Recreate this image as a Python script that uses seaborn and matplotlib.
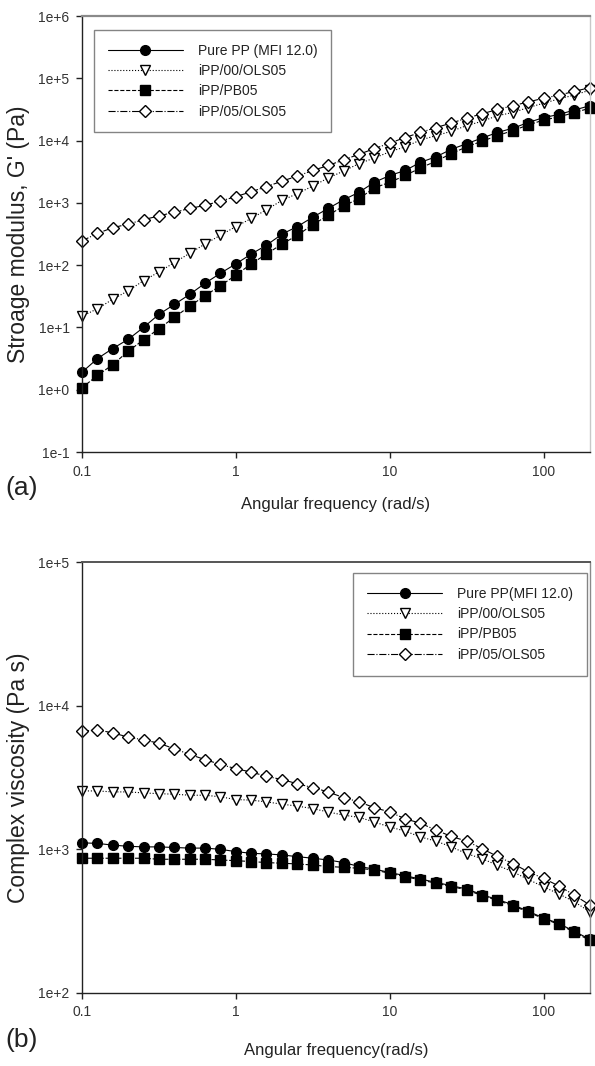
import math

import matplotlib
matplotlib.use("Agg")
import matplotlib.pyplot as plt
from matplotlib.ticker import FixedLocator, FuncFormatter, NullLocator
import pandas as pd
import seaborn as sns

# Angular frequency sweep (rad/s), 10 points per decade
freq = [0.1, 0.126, 0.158, 0.2, 0.251, 0.316, 0.398, 0.501, 0.631, 0.794,
        1.0, 1.26, 1.58, 2.0, 2.51, 3.16, 3.98, 5.01, 6.31, 7.94,
        10.0, 12.6, 15.8, 20.0, 25.1, 31.6, 39.8, 50.1, 63.1, 79.4,
        100.0, 126.0, 158.0, 200.0]

series_keys = ["pure", "ols00", "pb05", "ols05"]
labels_a = ["Pure PP (MFI 12.0)", "iPP/00/OLS05", "iPP/PB05", "iPP/05/OLS05"]
labels_b = ["Pure PP(MFI 12.0)", "iPP/00/OLS05", "iPP/PB05", "iPP/05/OLS05"]

# Storage modulus G' (Pa)
g_pure = [1.91, 3.16, 4.57, 6.46, 10.0, 16.2, 23.4, 33.9, 51.3, 74.1,
          105, 151, 209, 316, 417, 589, 813, 1120, 1480, 2140,
          2750, 3310, 4470, 5500, 7240, 8910, 11000, 13500, 15800, 19500,
          23400, 26300, 30900, 36300]
g_ols00 = [15.1, 20.0, 28.2, 38.9, 56.2, 77.6, 110, 155, 219, 302,
           417, 562, 776, 1100, 1410, 1860, 2510, 3240, 4270, 5250,
           6610, 7940, 10200, 12000, 14100, 17400, 20400, 25100, 28200, 33900,
           39800, 46800, 53700, 64600]
g_pb05 = [1.07, 1.70, 2.51, 4.17, 6.31, 9.55, 14.5, 21.9, 32.4, 46.8,
          69.2, 105, 151, 219, 302, 447, 631, 891, 1170, 1740,
          2140, 2750, 3630, 4680, 6170, 7940, 9770, 12000, 14500, 17800,
          21400, 24000, 28200, 33100]
g_ols05 = [245, 324, 398, 457, 537, 617, 708, 813, 912, 1070,
           1260, 1510, 1820, 2240, 2690, 3310, 3980, 4900, 6030, 7410,
           9120, 11200, 13500, 16200, 19100, 22900, 26900, 31600, 36300, 41700,
           47900, 53700, 61700, 70800]

# Complex viscosity (Pa s)
eta_pure = [1110, 1100, 1070, 1050, 1040, 1040, 1030, 1020, 1020, 1000,
            964, 938, 929, 914, 889, 867, 843, 809, 760, 728,
            690, 655, 621, 589, 558, 530, 483, 447, 412, 370,
            333, 304, 269, 236]
eta_ols00 = [2550, 2550, 2510, 2510, 2470, 2440, 2420, 2380, 2380, 2320,
             2220, 2200, 2140, 2060, 2000, 1920, 1820, 1730, 1670, 1550,
             1430, 1340, 1220, 1140, 1040, 933, 861, 774, 697, 617,
             548, 488, 432, 367]
eta_pb05 = [867, 867, 867, 867, 867, 853, 853, 853, 853, 843,
            834, 822, 809, 800, 791, 778, 759, 750, 738, 718,
            681, 646, 612, 581, 551, 522, 476, 441, 406, 365,
            329, 300, 265, 232]
eta_ols05 = [6640, 6780, 6470, 6040, 5780, 5480, 5010, 4580, 4210, 3900,
             3640, 3450, 3220, 3060, 2860, 2690, 2510, 2290, 2140, 1950,
             1820, 1630, 1520, 1360, 1230, 1140, 1010, 893, 796, 697,
             627, 555, 480, 409]

storage = dict(zip(series_keys, [g_pure, g_ols00, g_pb05, g_ols05]))
viscosity = dict(zip(series_keys, [eta_pure, eta_ols00, eta_pb05, eta_ols05]))

styles = {
    "pure":  dict(marker="o", linestyle="-",  markerfacecolor="black", markersize=7.0),
    "ols00": dict(marker="v", linestyle=":",  markerfacecolor="white", markersize=7.5),
    "pb05":  dict(marker="s", linestyle="--", markerfacecolor="black", markersize=6.5),
    "ols05": dict(marker="D", linestyle="-.", markerfacecolor="white", markersize=6.5),
}

sns.set_style("ticks")
plt.rcParams["font.family"] = ["Liberation Sans", "DejaVu Sans"]
plt.rcParams["axes.linewidth"] = 1.0

W, H = 595, 1066
fig = plt.figure(figsize=(W / 100, H / 100), dpi=100)


def frac_box(left, top, right, bottom):
    return [left / W, 1 - bottom / H, (right - left) / W, (bottom - top) / H]


ax_a = fig.add_axes(frac_box(82, 16, 590, 452))
ax_b = fig.add_axes(frac_box(82, 562, 590, 993))


def draw_panel(ax, values, labels):
    for key, label in zip(series_keys, labels):
        df = pd.DataFrame({"freq": freq, "value": values[key]})
        st = styles[key]
        sns.lineplot(data=df, x="freq", y="value", ax=ax, color="black",
                     linewidth=0.8, marker=st["marker"], linestyle=st["linestyle"],
                     markerfacecolor=st["markerfacecolor"], markeredgecolor="black",
                     markeredgewidth=1.0, markersize=st["markersize"],
                     errorbar=None, sort=False, label=label, clip_on=False)


def decade_label(v, pos):
    return f"1e{int(round(math.log10(v))):+d}"


def style_axes(ax, ylo, yhi):
    ax.set_xscale("log")
    ax.set_yscale("log")
    ax.set_xlim(0.1, 200)
    ax.set_ylim(10.0 ** ylo, 10.0 ** yhi)
    ax.xaxis.set_major_locator(FixedLocator([0.1, 1, 10, 100]))
    ax.xaxis.set_major_formatter(FuncFormatter(lambda v, p: f"{v:g}"))
    ax.xaxis.set_minor_locator(NullLocator())
    ax.yaxis.set_major_locator(FixedLocator([10.0 ** e for e in range(ylo, yhi + 1)]))
    ax.yaxis.set_major_formatter(FuncFormatter(decade_label))
    ax.yaxis.set_minor_locator(NullLocator())
    ax.tick_params(axis="both", which="major", direction="out", length=4,
                   width=1.0, color="#222222", labelsize=10, labelcolor="#333333", pad=5)
    ax.spines["left"].set_color("#222222")
    ax.spines["bottom"].set_color("#222222")


draw_panel(ax_a, storage, labels_a)
style_axes(ax_a, -1, 6)
ax_a.spines["top"].set_color("#8a8a8a")
ax_a.spines["top"].set_linewidth(1.6)
ax_a.spines["right"].set_color("#c8c8c8")
ax_a.set_xlabel("Angular frequency (rad/s)", fontsize=12, color="#222222")
ax_a.set_ylabel("Stroage modulus, G' (Pa)", fontsize=16.5, color="#222222")
ax_a.xaxis.set_label_coords(0.5, -0.103)
ax_a.yaxis.set_label_coords(-0.103, 0.5)

draw_panel(ax_b, viscosity, labels_b)
style_axes(ax_b, 2, 5)
ax_b.spines["top"].set_color("#555555")
ax_b.spines["top"].set_linewidth(1.4)
ax_b.spines["right"].set_color("#8a8a8a")
ax_b.set_xlabel("Angular frequency(rad/s)", fontsize=12, color="#222222")
ax_b.set_ylabel("Complex viscosity (Pa s)", fontsize=16.5, color="#222222")
ax_b.xaxis.set_label_coords(0.5, -0.116)
ax_b.yaxis.set_label_coords(-0.103, 0.5)

legend_kw = dict(frameon=True, fancybox=False, shadow=False, fontsize=10,
                 numpoints=1, handlelength=5.4, handletextpad=1.08,
                 borderpad=1.0, labelspacing=0.45, borderaxespad=0.0)
leg_a = ax_a.legend(loc="upper left", bbox_to_anchor=(0.0236, 0.968), **legend_kw)
leg_b = ax_b.legend(loc="upper right", bbox_to_anchor=(0.994, 0.9745), **legend_kw)
for leg in (leg_a, leg_b):
    fr = leg.get_frame()
    fr.set_edgecolor("#666666")
    fr.set_linewidth(1.0)
    for t in leg.get_texts():
        t.set_color("#222222")

fig.text(5 / W, 1 - 488 / H, "(a)", fontsize=19, va="center", ha="left", color="#222222")
fig.text(5 / W, 1 - 1040 / H, "(b)", fontsize=19, va="center", ha="left", color="#222222")

fig.savefig("out.png", dpi=100)
